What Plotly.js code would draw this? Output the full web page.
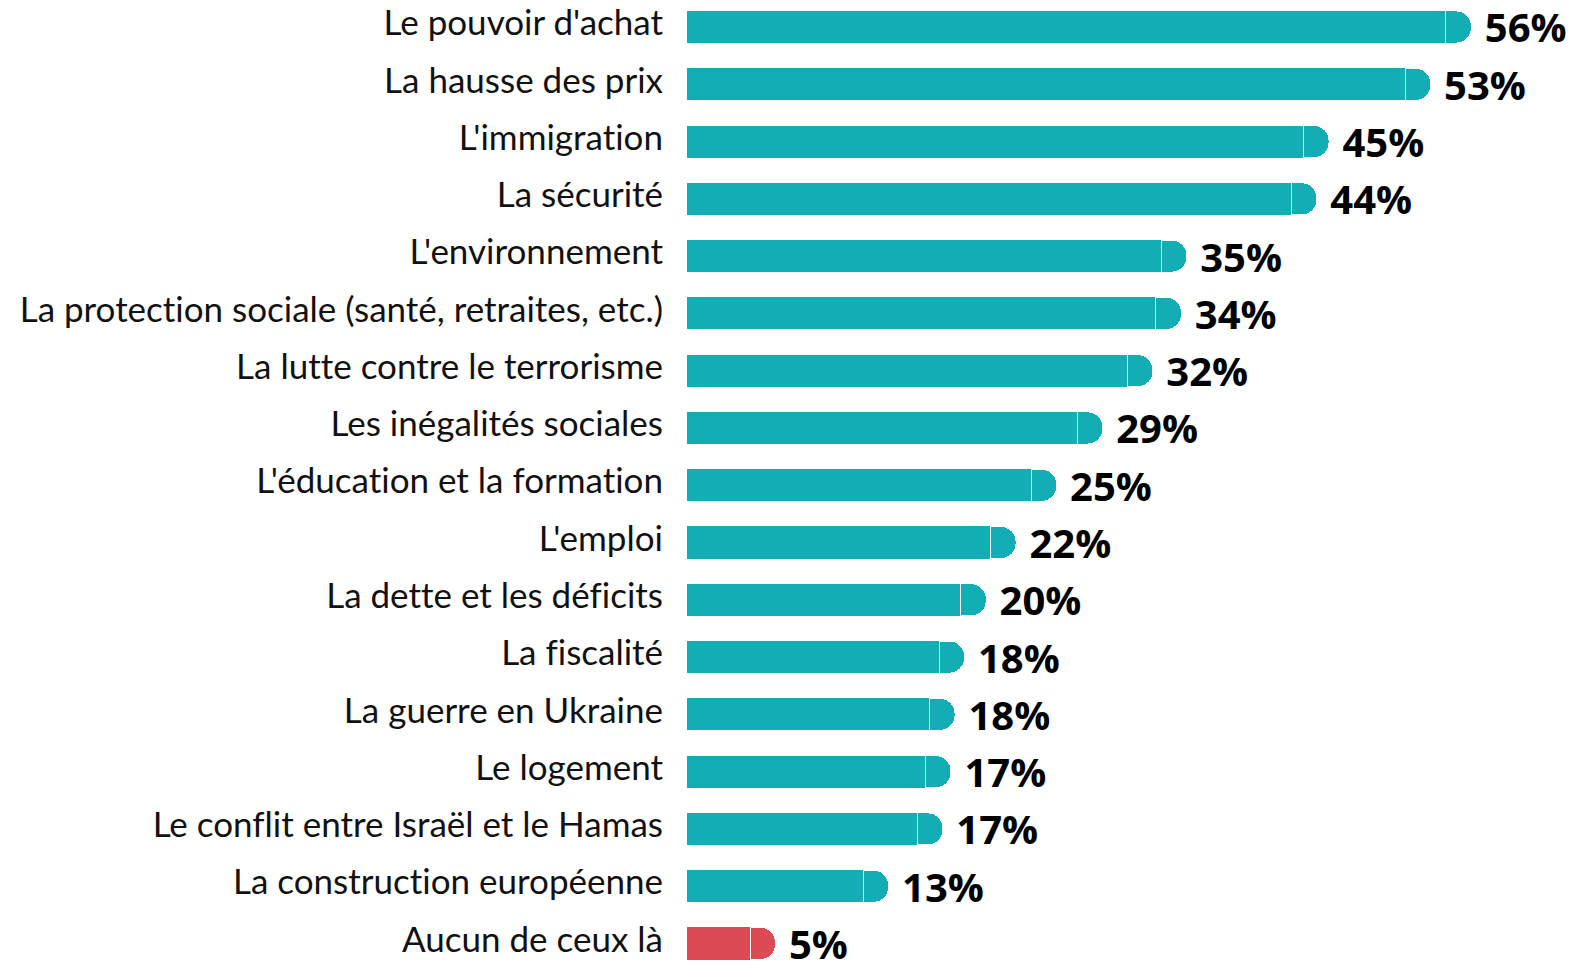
<!DOCTYPE html>
<html>
<head>
<meta charset="utf-8">
<script src="https://cdn.plot.ly/plotly-3.0.1.min.js"></script>
<style>
  html, body { margin: 0; padding: 0; background: #fff; }
  #chart { width: 1576px; height: 962px; }
  #chart text { font-variant-ligatures: none; font-feature-settings: "liga" 0, "clig" 0; }
</style>
</head>
<body>
<div id="chart"></div>
<script>
// Categories, top to bottom
const categories = [
  "Le pouvoir d'achat",
  "La hausse des prix",
  "L'immigration",
  "La sécurité",
  "L'environnement",
  "La protection sociale (santé, retraites, etc.)",
  "La lutte contre le terrorisme",
  "Les inégalités sociales",
  "L'éducation et la formation",
  "L'emploi",
  "La dette et les déficits",
  "La fiscalité",
  "La guerre en Ukraine",
  "Le logement",
  "Le conflit entre Israël et le Hamas",
  "La construction européenne",
  "Aucun de ceux là"
];
// Bar lengths (percent)
const values = [56.0, 53.0, 45.5, 44.6, 35.0, 34.6, 32.5, 28.8, 25.4, 22.4, 20.2, 18.6, 17.9, 17.6, 17.0, 13.0, 4.65];
// Printed value labels
const valueLabels = ["56%", "53%", "45%", "44%", "35%", "34%", "32%", "29%", "25%", "22%", "20%", "18%", "18%", "17%", "17%", "13%", "5%"];

const TEAL = "#13aeb5";
const RED = "#dc4a56";
const colors = categories.map((c, i) => i === categories.length - 1 ? RED : TEAL);
const idx = categories.map((c, i) => i);

// Rounded cap appended to each bar (constant visual length, in axis units)
const CAP = 1.88;
const capLen = categories.map(() => CAP);

const barW = 0.56;

const mainTrace = {
  type: "bar",
  orientation: "h",
  y: idx,
  x: values,
  width: barW,
  marker: { color: colors, line: { width: 0 } },
  hoverinfo: "skip",
  showlegend: false
};

const capTrace = {
  type: "bar",
  orientation: "h",
  y: idx,
  x: capLen,
  width: barW,
  marker: { color: colors, cornerradius: 15, line: { color: "#ffffff", width: 1 } },
  text: valueLabels.map(t => " " + t),
  textposition: "outside",
  constraintext: "none",
  cliponaxis: false,
  textfont: { family: "Open Sans, sans-serif", size: 40, color: "#000000", weight: 700 },
  hoverinfo: "skip",
  showlegend: false
};

const layout = {
  width: 1576,
  height: 962,
  margin: { l: 687, r: 0, t: 0, b: 0, pad: 0 },
  paper_bgcolor: "#ffffff",
  plot_bgcolor: "#ffffff",
  barmode: "stack",
  showlegend: false,
  xaxis: {
    range: [0, 65.6],
    visible: false,
    fixedrange: true
  },
  yaxis: {
    range: [16.323, -0.471],
    tickmode: "array",
    tickvals: idx,
    ticktext: categories,
    ticks: "",
    showgrid: false,
    zeroline: false,
    showline: false,
    ticklabelstandoff: 23,
    ticklabelshift: 4,
    tickfont: { family: "Lato, sans-serif", size: 35, color: "#111111" },
    fixedrange: true
  }
};

Plotly.newPlot("chart", [mainTrace, capTrace], layout, { displayModeBar: false, staticPlot: true });
</script>
</body>
</html>
